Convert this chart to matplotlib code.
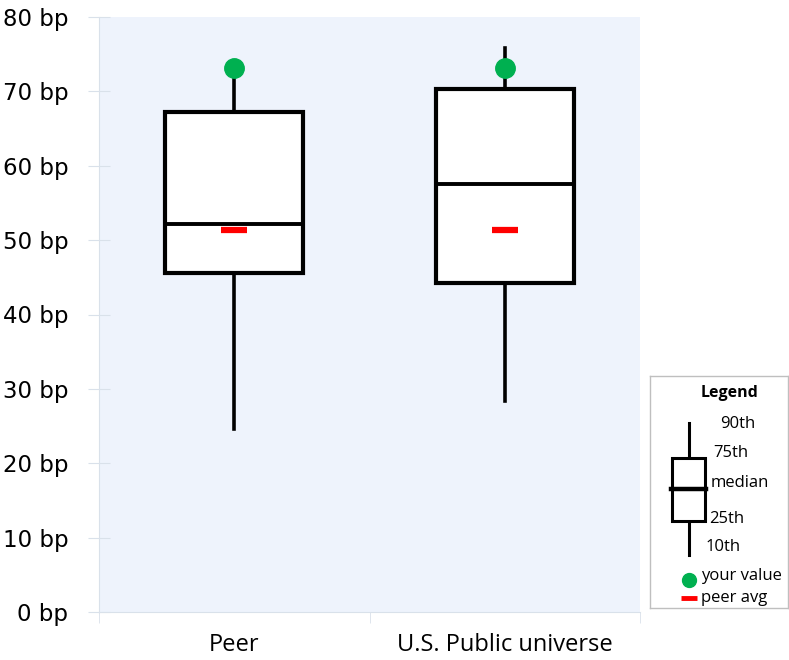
import matplotlib.pyplot as plt
from matplotlib.patches import Rectangle

# Datos
categorias = ['Peer', 'U.S. Public universe']
p10 = [24.6, 28.4]
p25 = [45.6, 44.2]
mediana = [52.2, 57.5]
p75 = [67.2, 70.3]
p90 = [73.0, 75.8]
tu_valor = [73.1, 73.1]
promedio = [51.3, 51.3]
yticks = [0, 10, 20, 30, 40, 50, 60, 70, 80]

fig = plt.figure(figsize=(7.89, 6.60), dpi=100)
ax = fig.add_axes([99/789, 48/660, 541/789, 595/660])
ax.set_facecolor('#EEF3FC')

posiciones = [1, 2]
stats = []
for i in range(len(categorias)):
    stats.append({'whislo': p10[i], 'q1': p25[i], 'med': mediana[i],
                  'q3': p75[i], 'whishi': p90[i], 'fliers': []})

ax.bxp(stats, positions=posiciones, widths=0.51, showcaps=False,
       patch_artist=True,
       boxprops=dict(facecolor='white', edgecolor='black', linewidth=3.0),
       whiskerprops=dict(color='black', linewidth=2.6),
       medianprops=dict(color='black', linewidth=2.8),
       zorder=2)

ax.plot(posiciones, tu_valor, 'o', color='#00B050', markersize=14,
        linestyle='none', zorder=4)
ax.plot(posiciones, promedio, '_', color='#FF0000', markersize=19,
        markeredgewidth=4.5, linestyle='none', zorder=4)

ax.set_xlim(0.5, 2.5)
ax.set_ylim(0, 80)
ax.set_yticks(yticks)
ax.set_yticklabels([f'{v} bp' for v in yticks], fontsize=16.5, family='DejaVu Sans')
ax.tick_params(axis='y', direction='inout', length=16, color='#D9E1EA', pad=14)
ax.set_xticks(posiciones)
ax.set_xticklabels(categorias, fontsize=17, family='Open Sans')
ax.set_xticks([0.5, 1.5, 2.5], minor=True)
ax.tick_params(axis='x', which='major', length=0, pad=15)
ax.tick_params(axis='x', which='minor', length=8, color='#D9E1EA')

for lado in ['top', 'right']:
    ax.spines[lado].set_visible(False)
for lado in ['left', 'bottom']:
    ax.spines[lado].set_color('#D9E1EA')

# Leyenda dibujada a mano
lg = fig.add_axes([650/789, 52/660, 138/789, 232/660])
lg.set_xlim(0, 138)
lg.set_ylim(232, 0)
lg.set_xticks([])
lg.set_yticks([])
for s in lg.spines.values():
    s.set_color('#BFBFBF')
    s.set_linewidth(1)

fuente = 'Open Sans'
tam = 12
lg.text(80, 17, 'Legend', ha='center', va='center', fontsize=11.5,
        fontweight='bold', family=fuente)
lg.plot([39, 39], [47, 179], color='black', linewidth=2.2)
lg.add_patch(Rectangle((22, 82), 33, 63, facecolor='white', edgecolor='black',
                       linewidth=2.2, zorder=3))
lg.plot([21, 56], [113, 113], color='black', linewidth=3.2, zorder=4)
lg.text(70, 48, '90th', va='center', fontsize=tam, family=fuente)
lg.text(63, 77, '75th', va='center', fontsize=tam, family=fuente)
lg.text(61, 107, 'median', va='center', fontsize=tam, family=fuente)
lg.text(59, 143, '25th', va='center', fontsize=tam, family=fuente)
lg.text(56, 171, '10th', va='center', fontsize=tam, family=fuente)
lg.plot([39], [204], 'o', color='#00B050', markersize=10)
lg.text(51, 200, 'your value', va='center', fontsize=tam, family=fuente)
lg.plot([39], [222], '_', color='#FF0000', markersize=11, markeredgewidth=3.5)
lg.text(51, 222, 'peer avg', va='center', fontsize=tam, family=fuente)

fig.savefig('out.png', dpi=100)
